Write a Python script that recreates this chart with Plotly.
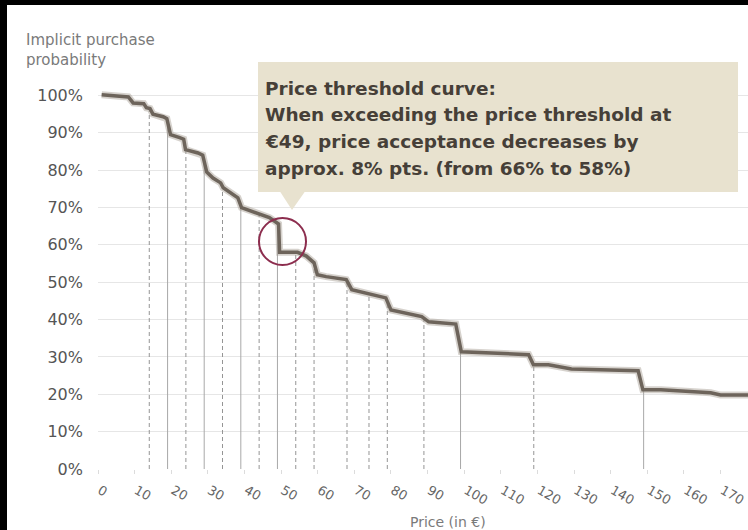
import numpy as np
import plotly.graph_objects as go

# ---- data ----
price = [1.0, 6.0, 8.3, 9.6, 12.5, 13.2, 14.2, 15.0, 17.8, 18.8, 19.8, 22.3, 23.4, 23.9,
         27.3, 28.6, 29.7, 31.4, 33.5, 34.2, 36.8, 38.2, 39.2, 42.0, 44.0, 46.8, 49.3, 49.6,
         54.5, 56.9, 59.0, 59.9, 62.3, 67.8, 69.3, 73.2, 78.6, 80.0, 84.1, 88.4, 90.3, 95.8,
         97.7, 99.2, 108.6, 117.6, 118.9, 123.0, 129.3, 138.5, 147.5, 148.8, 153.7, 167.3,
         170.0, 177.5]
probability = [100.2, 99.9, 99.6, 98.0, 97.8, 96.7, 96.5, 95.0, 94.3, 93.8, 89.5, 88.7, 88.3, 85.5,
               84.6, 84.0, 79.5, 77.9, 76.6, 75.3, 73.6, 72.6, 70.0, 69.0, 68.5, 67.3, 65.6, 58.0,
               58.0, 57.0, 55.2, 52.0, 51.5, 50.7, 48.0, 47.0, 45.8, 42.6, 41.8, 40.8, 39.4, 39.0,
               38.8, 31.4, 31.1, 30.6, 27.9, 27.9, 26.8, 26.5, 26.3, 21.2, 21.2, 20.4,
               19.8, 19.8]

drop_prices = [14, 19, 24, 29, 34, 39, 44, 49, 54, 59, 68, 74, 79, 89, 99, 119, 149]
drop_dashed = [True, False, True, False, True, False, True, False, True, True, True, True,
               True, True, False, True, False]

x_ticks = list(range(0, 180, 10))
y_ticks = list(range(0, 110, 10))
y_tick_labels = [f"{v}%" for v in y_ticks]

note_lines = ["Price threshold curve:",
              "When exceeding the price threshold at",
              "€49, price acceptance decreases by",
              "approx. 8% pts. (from 66% to 58%)"]

# ---- geometry helpers ----
W, H = 748, 530
ML, MR, MT, MB = 98, 0, 88, 61
PW, PH = W - ML - MR, H - MT - MB


def xp(px):
    return (px - ML) / PW


def yp(py):
    return (H - MB - py) / PH


fig = go.Figure()

# drop lines from the curve to the axis
heights = np.interp(drop_prices, price, probability)
for dashed in (False, True):
    xs, ys = [], []
    for p, h, d in zip(drop_prices, heights, drop_dashed):
        if d == dashed:
            xs += [p, p, None]
            ys += [0, h, None]
    fig.add_trace(go.Scatter(
        x=xs, y=ys, mode="lines", hoverinfo="skip", showlegend=False,
        line=dict(color="#959595" if dashed else "#a8a8a8", width=1,
                  dash="4px,3px" if dashed else "solid")))

# curve (halo + core)
fig.add_trace(go.Scatter(x=price, y=probability, mode="lines", showlegend=False,
                         hoverinfo="skip",
                         line=dict(color="rgba(165,155,145,0.45)", width=7)))
fig.add_trace(go.Scatter(x=price, y=probability, mode="lines", showlegend=False,
                         line=dict(color="#6d645b", width=3.5)))

shapes = [
    # black photo border (top and left), kept inside the page
    dict(type="rect", xref="paper", yref="paper", layer="above",
         x0=xp(0), x1=xp(748), y0=yp(5), y1=yp(0),
         fillcolor="black", line=dict(width=0)),
    dict(type="rect", xref="paper", yref="paper", layer="above",
         x0=xp(0), x1=xp(7), y0=yp(530), y1=yp(0),
         fillcolor="black", line=dict(width=0)),
    # callout box
    dict(type="rect", xref="paper", yref="paper",
         x0=xp(258), x1=xp(738), y0=yp(192), y1=yp(62),
         fillcolor="#e8e2cf", line=dict(width=0)),
    dict(type="path", xref="paper", yref="paper",
         path=f"M {xp(280)} {yp(191.5)} L {xp(305)} {yp(191.5)} L {xp(292)} {yp(210)} Z",
         fillcolor="#e8e2cf", line=dict(width=0)),
    # highlight circle
    dict(type="circle", xref="paper", yref="paper",
         x0=xp(259), x1=xp(306), y0=yp(265), y1=yp(218),
         line=dict(color="#8c2d4e", width=2)),
]

annotations = []
for i, t in enumerate(note_lines):
    annotations.append(dict(
        text=t, xref="paper", yref="paper", x=xp(263), y=yp(88 + i * 26.7),
        xanchor="left", yanchor="middle", showarrow=False,
        font=dict(family="DejaVu Sans", size=18.5, color="#463f38", weight="bold")))

annotations.append(dict(
    text="Implicit purchase<br>probability", xref="paper", yref="paper",
    x=xp(24), y=yp(50), xanchor="left", yanchor="middle", align="left",
    showarrow=False, font=dict(family="DejaVu Sans", size=15, color="#7a7a7a")))
annotations.append(dict(
    text="Price (in €)", xref="paper", yref="paper", x=xp(448), y=yp(522),
    xanchor="center", yanchor="middle", showarrow=False,
    font=dict(family="DejaVu Sans", size=14, color="#7a7a7a")))

fig.update_layout(
    width=W, height=H,
    margin=dict(l=ML, r=MR, t=MT, b=MB, pad=0),
    paper_bgcolor="white", plot_bgcolor="white",
    shapes=shapes, annotations=annotations,
    xaxis=dict(range=[0, 177.5], tickvals=x_ticks, tickangle=30,
               showgrid=False, zeroline=False, showline=False,
               ticks="outside", ticklen=4, tickcolor="#dcdcdc",
               ticklabelshift=2, ticklabelstandoff=4, ticklabeloverflow="allow",
               tickfont=dict(family="DejaVu Sans", size=13, color="#666666"),
               fixedrange=True),
    yaxis=dict(range=[0, 102], tickvals=y_ticks, ticktext=y_tick_labels,
               showgrid=True, gridcolor="#e6e6e6", gridwidth=1,
               zeroline=False, showline=False, ticks="",
               ticklabelstandoff=14,
               tickfont=dict(family="DejaVu Sans", size=16, color="#555555"),
               fixedrange=True),
)

fig.write_html("out.html")
